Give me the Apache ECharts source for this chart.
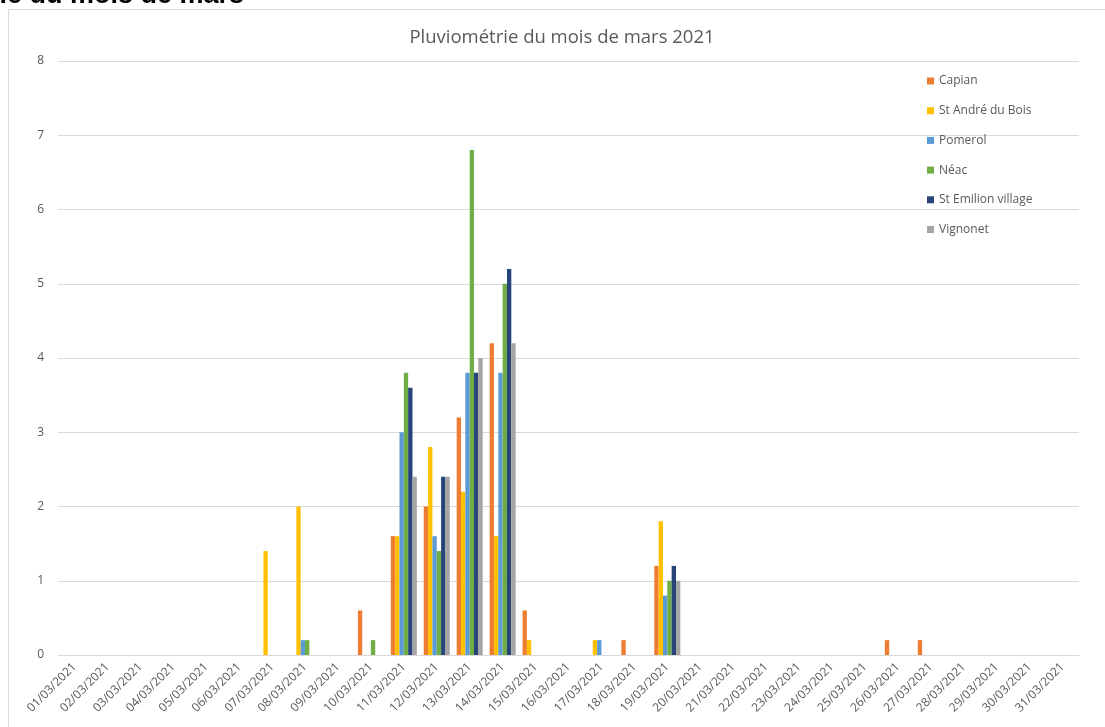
<!DOCTYPE html>
<html>
<head>
<meta charset="utf-8">
<title>Pluviométrie mars 2021</title>
<script src="https://cdn.jsdelivr.net/npm/echarts@6/dist/echarts.min.js"></script>
<style>
  html, body { margin: 0; padding: 0; background: #fff; }
  #chart { width: 1105px; height: 727px; }
</style>
</head>
<body>
<div id="chart"></div>
<script>
// jours du mois de mars 2021
var days = [];
for (var d = 1; d <= 31; d++) {
  days.push((d < 10 ? '0' + d : '' + d) + '/03/2021');
}

var stations = ['Capian', 'St André du Bois', 'Pomerol', 'Néac', 'St Emilion village', 'Vignonet'];
var colors = ['#ED7D31', '#FFC000', '#5B9BD5', '#70AD47', '#264478', '#A5A5A5'];

// pluie en mm, jour par jour (01 -> 31)
var capian    = [0,0,0,0,0,0,0,0,0,0.6,1.6,2.0,3.2,4.2,0.6,0,0,0.2,1.2,0,0,0,0,0,0,0.2,0.2,0,0,0,0];
var standre   = [0,0,0,0,0,0,1.4,2.0,0,0,1.6,2.8,2.2,1.6,0.2,0,0.2,0,1.8,0,0,0,0,0,0,0,0,0,0,0,0];
var pomerol   = [0,0,0,0,0,0,0,0.2,0,0,3.0,1.6,3.8,3.8,0,0,0.2,0,0.8,0,0,0,0,0,0,0,0,0,0,0,0];
var neac      = [0,0,0,0,0,0,0,0.2,0,0.2,3.8,1.4,6.8,5.0,0,0,0,0,1.0,0,0,0,0,0,0,0,0,0,0,0,0];
var stemilion = [0,0,0,0,0,0,0,0,0,0,3.6,2.4,3.8,5.2,0,0,0,0,1.2,0,0,0,0,0,0,0,0,0,0,0,0];
var vignonet  = [0,0,0,0,0,0,0,0,0,0,2.4,2.4,4.0,4.2,0,0,0,0,1.0,0,0,0,0,0,0,0,0,0,0,0,0];
var values = [capian, standre, pomerol, neac, stemilion, vignonet];

var series = stations.map(function (name, i) {
  return {
    name: name,
    type: 'bar',
    data: values[i],
    barGap: '0%',
    barCategoryGap: '21%',
    itemStyle: { color: colors[i] }
  };
});

var chart = echarts.init(document.getElementById('chart'));
chart.setOption({
  animation: false,
  color: colors,
  textStyle: { fontFamily: 'Open Sans, sans-serif' },
  title: {
    text: 'Pluviométrie du mois de mars 2021',
    left: 557,
    textAlign: 'center',
    top: 23,
    textStyle: { color: '#595959', fontSize: 18.5, fontWeight: 'normal' }
  },
  legend: {
    orient: 'vertical',
    left: 922,
    top: 70,
    itemWidth: 7,
    itemHeight: 7,
    itemGap: 17.7,
    icon: 'rect',
    textStyle: { color: '#595959', fontSize: 12 },
    data: stations
  },
  grid: { left: 58, right: 26, top: 61, bottom: 72 },
  xAxis: {
    type: 'category',
    data: days,
    axisLine: { lineStyle: { color: '#d9d9d9', width: 1 } },
    axisTick: { show: false },
    axisLabel: { color: '#595959', fontSize: 12, rotate: 45, interval: 0, margin: 10 }
  },
  yAxis: {
    type: 'value',
    min: 0,
    max: 8,
    interval: 1,
    axisLine: { show: false },
    axisTick: { show: false },
    axisLabel: { color: '#595959', fontSize: 12, margin: 14 },
    splitLine: { lineStyle: { color: '#d9d9d9', width: 1 } }
  },
  graphic: [
    {
      type: 'rect',
      shape: { x: 8.5, y: 9.5, width: 1120, height: 740 },
      style: { fill: 'none', stroke: '#d9d9d9', lineWidth: 1 },
      silent: true
    },
    {
      type: 'text',
      x: 244,
      y: 9,
      style: {
        text: 'Pluviométrie du mois de mars',
        align: 'right',
        verticalAlign: 'bottom',
        fill: '#000',
        font: 'bold 27px "Liberation Sans", Arial, sans-serif'
      },
      silent: true
    }
  ],
  series: series
});
</script>
</body>
</html>
